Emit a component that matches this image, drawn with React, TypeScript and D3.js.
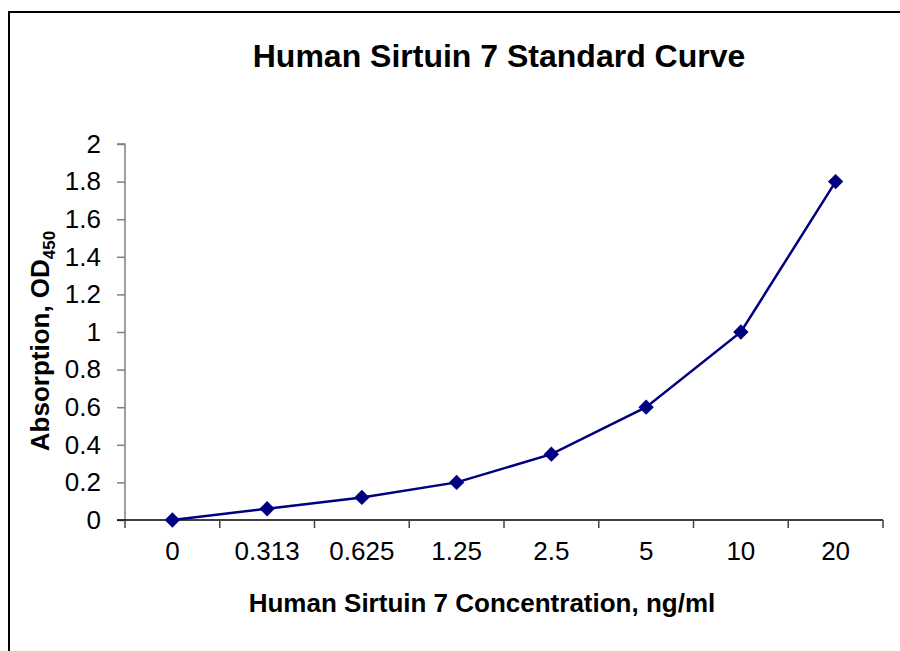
import React, { useEffect, useRef } from 'react'
import * as d3 from 'd3'

const concentrations = ['0', '0.313', '0.625', '1.25', '2.5', '5', '10', '20']
const absorption = [0, 0.06, 0.12, 0.2, 0.35, 0.6, 1.0, 1.8]
const yTicks = [0, 0.2, 0.4, 0.6, 0.8, 1, 1.2, 1.4, 1.6, 1.8, 2]

const W = 900
const H = 651
const FONT = 'Liberation Sans, Arial, sans-serif'

export default function App() {
  const ref = useRef<SVGSVGElement>(null)

  useEffect(() => {
    const svg = d3.select(ref.current)
    svg.selectAll('*').remove()

    const left = 125, right = 883, top = 144, bottom = 520

    // outer frame: only left and top edges are inside the picture
    svg.append('path')
      .attr('d', `M9,${H + 5}V12H${W + 5}`)
      .attr('fill', 'none').attr('stroke', 'black').attr('stroke-width', 2)

    const x = d3.scaleBand().domain(concentrations).range([left, right])
    const y = d3.scaleLinear().domain([0, 2]).range([bottom, top])

    // title
    svg.append('text')
      .attr('x', 499).attr('y', 67)
      .attr('text-anchor', 'middle')
      .attr('font-family', FONT).attr('font-weight', 'bold').attr('font-size', 32)
      .text('Human Sirtuin 7 Standard Curve')

    // y axis
    const yAxis = svg.append('g')
      .attr('transform', `translate(${left},0)`)
      .call(d3.axisLeft(y).tickValues(yTicks).tickSize(8).tickPadding(16).tickFormat(d3.format('')))
    yAxis.selectAll('path, line').attr('stroke', '#808080').attr('stroke-width', 1.5)
    yAxis.selectAll('text').attr('font-family', FONT).attr('font-size', 26).attr('fill', 'black')
    yAxis.select('.domain').attr('d', `M-8,${top}H0V${bottom}`)

    // x axis
    const xAxis = svg.append('g')
      .attr('transform', `translate(0,${bottom})`)
    xAxis.append('line')
      .attr('x1', left - 8).attr('x2', right)
      .attr('stroke', 'black').attr('stroke-width', 1.5)
    const edges = concentrations.map(c => x(c)!).concat([right])
    xAxis.selectAll('line.tick')
      .data(edges)
      .join('line')
      .attr('class', 'tick')
      .attr('x1', d => d).attr('x2', d => d)
      .attr('y1', 0).attr('y2', 8)
      .attr('stroke', '#404040').attr('stroke-width', 1.5)
    xAxis.selectAll('text.lbl')
      .data(concentrations)
      .join('text')
      .attr('class', 'lbl')
      .attr('x', d => x(d)! + x.bandwidth() / 2)
      .attr('y', 40)
      .attr('text-anchor', 'middle')
      .attr('font-family', FONT).attr('font-size', 26)
      .text(d => d)

    // axis titles
    svg.append('text')
      .attr('x', 482).attr('y', 612)
      .attr('text-anchor', 'middle')
      .attr('font-family', FONT).attr('font-weight', 'bold').attr('font-size', 26)
      .text('Human Sirtuin 7 Concentration, ng/ml')

    const yt = svg.append('text')
      .attr('transform', `translate(49,341) rotate(-90)`)
      .attr('text-anchor', 'middle')
      .attr('font-family', FONT).attr('font-weight', 'bold').attr('font-size', 26)
    yt.append('tspan').text('Absorption, OD')
    yt.append('tspan').attr('font-size', 17).attr('dy', 6).text('450')

    // line + markers
    const pts: [number, number][] = concentrations.map((c, i) => [x(c)! + x.bandwidth() / 2, y(absorption[i])])
    svg.append('path')
      .attr('d', d3.line()(pts))
      .attr('fill', 'none').attr('stroke', '#000080').attr('stroke-width', 2.5)
    svg.selectAll('path.pt')
      .data(pts)
      .join('path')
      .attr('class', 'pt')
      .attr('transform', d => `translate(${d[0]},${d[1]})`)
      .attr('d', d3.symbol(d3.symbolDiamond2, 150)())
      .attr('fill', '#000080')
  }, [])

  return <svg ref={ref} width={W} height={H} style={{ display: 'block', position: 'absolute', left: 0, top: 0 }} />
}
